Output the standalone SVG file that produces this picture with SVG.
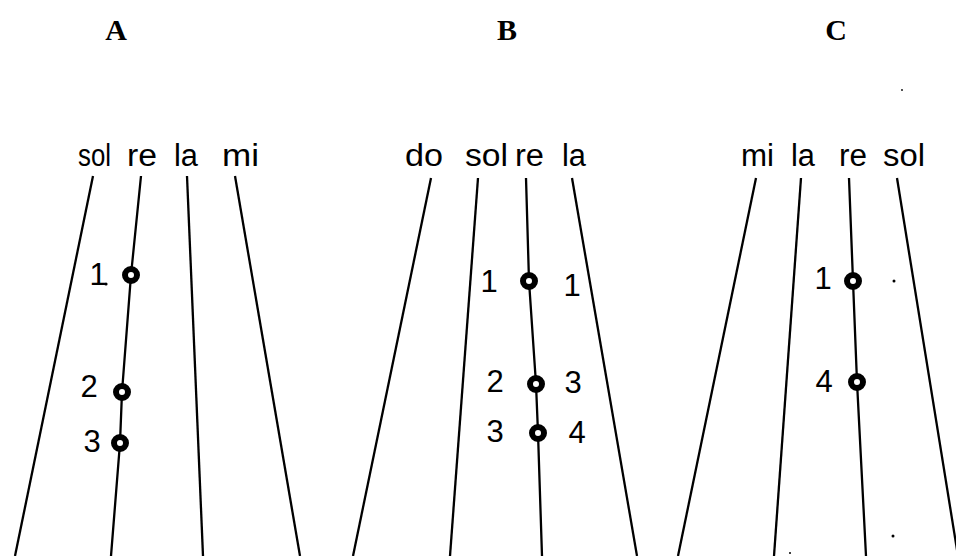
<svg xmlns="http://www.w3.org/2000/svg" width="956" height="556" viewBox="0 0 956 556">
<style>
.bg{fill:#ffffff}
.hdr{font-family:"Liberation Serif","Times New Roman",serif;font-weight:bold;font-size:30px;fill:#000;text-anchor:middle}
.str{font-family:"Liberation Sans",Arial,sans-serif;font-size:31px;fill:#000}
.num{font-family:"Liberation Sans",Arial,sans-serif;font-size:31px;fill:#000;text-anchor:middle}
.ln{fill:none;stroke:#000;stroke-width:2.3;stroke-linejoin:round;stroke-linecap:butt}
.pos{fill:#fff;stroke:#000;stroke-width:6}
.spk{fill:#000}
</style>
<rect class="bg" x="0" y="0" width="956" height="556"/>

<g id="connectors">
  <!-- Panel A -->
  <polyline class="ln" points="93,176 15,556"/>
  <polyline class="ln" points="141,176 131,275 122,392 120,443 111,556"/>
  <polyline class="ln" points="187,176 203,556"/>
  <polyline class="ln" points="235,176 300,556"/>
  <!-- Panel B -->
  <polyline class="ln" points="431,178 353,556"/>
  <polyline class="ln" points="478,178 450,556"/>
  <polyline class="ln" points="526,178 529,281 536,384 538,433 542,556"/>
  <polyline class="ln" points="572,178 637,556"/>
  <!-- Panel C -->
  <polyline class="ln" points="756,178 678,556"/>
  <polyline class="ln" points="801,178 774,556"/>
  <polyline class="ln" points="849,178 853,281 857,382 866,556"/>
  <polyline class="ln" points="897,178 958,556"/>
</g>

<g id="panelA">
  <text class="hdr" x="116" y="40">A</text>
  <text class="str" x="78" y="166" textLength="33" lengthAdjust="spacingAndGlyphs">sol</text>
  <text class="str" x="127" y="166" textLength="30" lengthAdjust="spacingAndGlyphs">re</text>
  <text class="str" x="174" y="166" textLength="24" lengthAdjust="spacingAndGlyphs">la</text>
  <text class="str" x="222" y="166" textLength="37" lengthAdjust="spacingAndGlyphs">mi</text>
  <g id="A1"><circle class="pos" cx="131" cy="275" r="6"/><text class="num" x="98" y="285">1</text><circle class="spk" cx="106" cy="284" r="1.6"/></g>
  <g id="A2"><circle class="pos" cx="122" cy="392" r="6"/><text class="num" x="89" y="397">2</text></g>
  <g id="A3"><circle class="pos" cx="120" cy="443" r="6"/><text class="num" x="92" y="452">3</text></g>
</g>

<g id="panelB">
  <text class="hdr" x="507" y="40">B</text>
  <text class="str" x="405" y="166" textLength="38" lengthAdjust="spacingAndGlyphs">do</text>
  <text class="str" x="465" y="166" textLength="43" lengthAdjust="spacingAndGlyphs">sol</text>
  <text class="str" x="515" y="166" textLength="29" lengthAdjust="spacingAndGlyphs">re</text>
  <text class="str" x="562" y="166" textLength="24" lengthAdjust="spacingAndGlyphs">la</text>
  <g id="B1"><circle class="pos" cx="529" cy="281" r="6"/><text class="num" x="489" y="292">1</text><text class="num" x="572" y="296">1</text></g>
  <g id="B2"><circle class="pos" cx="536" cy="384" r="6"/><text class="num" x="495" y="392">2</text><text class="num" x="573" y="393">3</text></g>
  <g id="B3"><circle class="pos" cx="538" cy="433" r="6"/><text class="num" x="495" y="442">3</text><text class="num" x="577" y="443">4</text></g>
</g>

<g id="panelC">
  <text class="hdr" x="836" y="40">C</text>
  <text class="str" x="741" y="166" textLength="33" lengthAdjust="spacingAndGlyphs">mi</text>
  <text class="str" x="791" y="166" textLength="24" lengthAdjust="spacingAndGlyphs">la</text>
  <text class="str" x="839" y="166" textLength="28" lengthAdjust="spacingAndGlyphs">re</text>
  <text class="str" x="883" y="166" textLength="42" lengthAdjust="spacingAndGlyphs">sol</text>
  <g id="C1"><circle class="pos" cx="853" cy="281" r="6"/><text class="num" x="823" y="289">1</text></g>
  <g id="C4"><circle class="pos" cx="857" cy="382" r="6"/><text class="num" x="824" y="392">4</text></g>
  <circle class="spk" cx="894" cy="281" r="1.5"/>
  <circle class="spk" cx="902" cy="90" r="0.9"/>
  <circle class="spk" cx="893" cy="536" r="1.5"/>
  <circle class="spk" cx="790" cy="553" r="1"/>
</g>
</svg>
